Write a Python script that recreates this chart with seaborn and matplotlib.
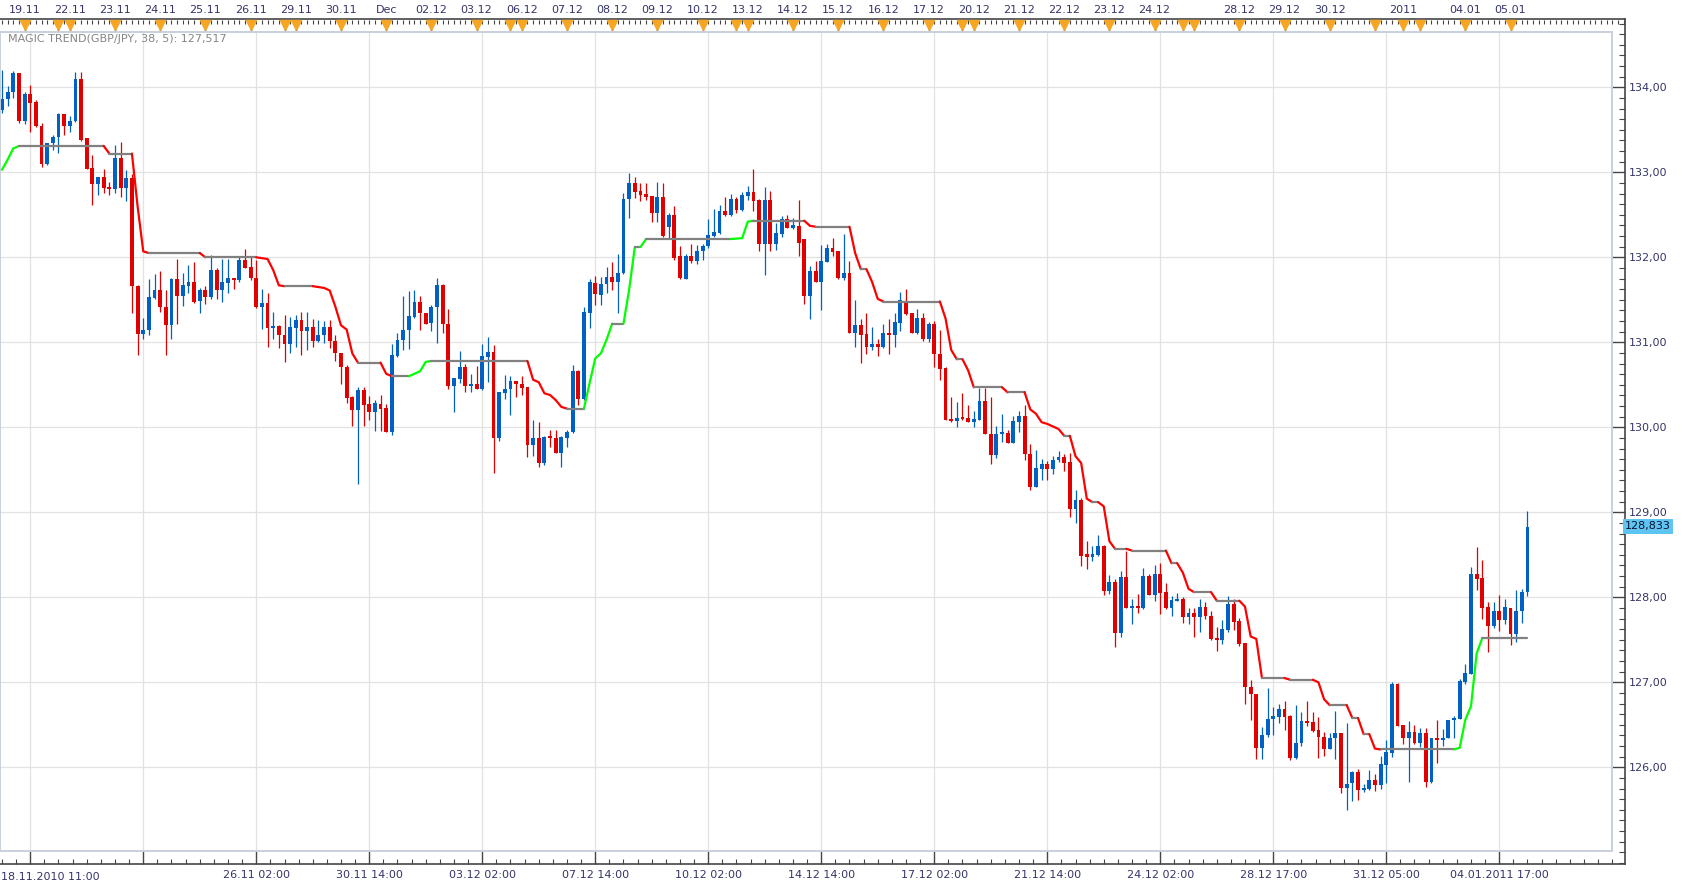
import numpy as np
import pandas as pd
import seaborn as sns
import matplotlib.pyplot as plt
from matplotlib.ticker import FixedLocator, MultipleLocator
from matplotlib.transforms import blended_transform_factory

# 3h candles GBP/JPY, 18.11.2010 -> 05.01.2011
opens = [
    133.73, 133.86, 133.94, 134.17, 133.60, 133.92, 133.83, 133.55, 133.10, 133.34,
    133.41, 133.69, 133.55, 133.60, 134.10, 133.40, 133.05, 132.86, 132.94, 132.83,
    132.80, 133.17, 132.81, 132.93, 131.66, 131.10, 131.14, 131.52, 131.62, 131.41,
    131.20, 131.75, 131.54, 131.66, 131.71, 131.49, 131.61, 131.53, 131.85, 131.62,
    131.70, 131.76, 131.73, 131.97, 131.89, 131.76, 131.41, 131.46, 131.17, 131.19,
    131.08, 130.98, 131.17, 131.26, 131.13, 131.18, 131.02, 131.09, 131.18, 131.01,
    130.87, 130.71, 130.36, 130.20, 130.44, 130.27, 130.18, 130.28, 130.23, 129.94,
    130.84, 131.03, 131.14, 131.30, 131.47, 131.34, 131.23, 131.41, 131.67, 131.22,
    130.49, 130.57, 130.71, 130.49, 130.51, 130.45, 130.83, 130.89, 129.88, 130.40,
    130.45, 130.54, 130.51, 130.47, 129.79, 129.87, 129.58, 129.88, 129.87, 129.70,
    129.88, 129.94, 130.66, 130.33, 131.35, 131.70, 131.56, 131.68, 131.77, 131.71,
    131.81, 132.68, 132.87, 132.78, 132.75, 132.72, 132.52, 132.71, 132.36, 132.50,
    132.01, 131.75, 132.02, 131.96, 132.07, 132.13, 132.25, 132.29, 132.55, 132.50,
    132.69, 132.56, 132.72, 132.77, 132.67, 132.16, 132.67, 132.16, 132.27, 132.45,
    132.35, 132.37, 132.21, 131.54, 131.84, 131.71, 131.95, 132.11, 132.07, 131.76,
    131.82, 131.11, 131.20, 131.10, 130.94, 130.98, 130.94, 131.11, 131.08, 131.23,
    131.49, 131.34, 131.11, 131.29, 131.04, 131.22, 130.86, 130.70, 130.10, 130.07,
    130.11, 130.11, 130.06, 130.09, 130.31, 129.92, 129.67, 129.92, 129.93, 129.82,
    130.06, 130.13, 129.69, 129.30, 129.51, 129.57, 129.51, 129.61, 129.65, 129.59,
    129.04, 129.15, 128.50, 128.48, 128.50, 128.60, 128.07, 128.18, 127.58, 128.24,
    127.87, 127.90, 127.87, 128.25, 128.03, 128.27, 128.06, 127.87, 127.96, 127.98,
    127.77, 127.81, 127.77, 127.89, 127.78, 127.52, 127.50, 127.62, 127.92, 127.72,
    127.46, 126.95, 126.86, 126.23, 126.38, 126.57, 126.59, 126.68, 126.60, 126.11,
    126.29, 126.54, 126.53, 126.44, 126.36, 126.22, 126.35, 126.40, 125.76, 125.81,
    125.95, 125.73, 125.75, 125.85, 125.79, 126.03, 126.17, 126.98, 126.50, 126.35,
    126.41, 126.29, 126.40, 125.83, 126.34, 126.32, 126.35, 126.56, 126.57, 127.00,
    127.10, 128.27, 128.23, 127.88, 127.66, 127.84, 127.73, 127.88, 127.57, 127.84,
    128.06,
]
highs = [
    134.20, 134.02, 134.19, 134.17, 133.94, 134.03, 133.85, 133.58, 133.35, 133.44,
    133.70, 133.69, 133.66, 134.18, 134.18, 133.40, 133.20, 132.95, 133.04, 132.89,
    133.32, 133.36, 133.03, 132.98, 131.67, 131.29, 131.75, 131.80, 131.84, 131.62,
    131.76, 131.98, 131.81, 131.91, 131.95, 131.64, 131.66, 132.03, 131.87, 131.98,
    131.98, 131.76, 132.02, 132.10, 132.00, 131.97, 131.63, 131.58, 131.36, 131.20,
    131.32, 131.30, 131.32, 131.36, 131.36, 131.27, 131.26, 131.25, 131.26, 131.08,
    130.87, 130.73, 130.37, 130.47, 130.47, 130.37, 130.32, 130.38, 130.27, 130.98,
    131.11, 131.55, 131.60, 131.61, 131.55, 131.35, 131.44, 131.76, 131.68, 131.39,
    130.58, 130.90, 130.75, 130.63, 130.72, 130.98, 131.06, 130.97, 130.42, 130.61,
    130.60, 130.54, 130.60, 130.47, 130.09, 130.06, 129.90, 129.97, 129.97, 129.90,
    129.97, 130.73, 130.67, 131.42, 131.75, 131.78, 131.77, 131.89, 131.95, 132.04,
    132.76, 132.99, 132.95, 132.88, 132.87, 132.72, 132.89, 132.88, 132.52, 132.60,
    132.13, 132.04, 132.16, 132.15, 132.16, 132.45, 132.57, 132.62, 132.71, 132.75,
    132.71, 132.77, 132.84, 133.04, 132.68, 132.83, 132.78, 132.40, 132.49, 132.50,
    132.46, 132.67, 132.22, 131.90, 131.96, 132.15, 132.16, 132.23, 132.07, 132.28,
    131.96, 131.50, 131.27, 131.34, 131.18, 131.04, 131.22, 131.27, 131.35, 131.59,
    131.63, 131.35, 131.39, 131.35, 131.24, 131.25, 131.15, 130.71, 130.36, 130.30,
    130.40, 130.26, 130.19, 130.46, 130.46, 130.36, 130.02, 130.16, 129.97, 130.13,
    130.19, 130.26, 129.80, 129.73, 129.63, 129.60, 129.66, 129.72, 129.69, 129.70,
    129.26, 129.17, 128.66, 128.60, 128.73, 128.62, 128.26, 128.21, 128.31, 128.54,
    127.98, 128.04, 128.34, 128.27, 128.38, 128.40, 128.17, 128.02, 128.05, 128.00,
    127.87, 127.87, 127.98, 127.95, 127.84, 127.65, 127.73, 128.01, 127.98, 127.76,
    127.46, 127.03, 126.86, 126.47, 126.93, 126.71, 126.75, 126.78, 126.62, 126.73,
    126.65, 126.78, 126.65, 126.59, 126.42, 126.40, 126.66, 126.40, 126.52, 125.96,
    125.98, 125.80, 125.97, 125.92, 126.13, 126.32, 127.00, 126.99, 126.50, 126.54,
    126.50, 126.46, 126.46, 126.34, 126.56, 126.45, 126.56, 126.60, 127.04, 127.21,
    128.36, 128.59, 128.44, 127.95, 127.95, 128.03, 127.98, 127.88, 128.08, 128.10,
    129.01,
]
lows = [
    133.70, 133.78, 133.87, 133.58, 133.57, 133.48, 133.53, 133.06, 133.08, 133.26,
    133.23, 133.44, 133.48, 133.59, 133.37, 133.04, 132.62, 132.73, 132.76, 132.73,
    132.76, 132.71, 132.66, 131.34, 130.85, 131.04, 131.08, 131.51, 131.36, 130.85,
    131.04, 131.22, 131.43, 131.58, 131.46, 131.35, 131.45, 131.51, 131.51, 131.47,
    131.58, 131.63, 131.71, 131.88, 131.73, 131.40, 131.16, 130.95, 131.04, 130.93,
    130.77, 130.88, 130.95, 130.85, 130.91, 130.94, 131.00, 130.99, 130.93, 130.78,
    130.51, 130.29, 130.01, 129.33, 130.01, 130.08, 129.96, 129.96, 129.94, 129.91,
    130.83, 130.91, 130.92, 131.29, 131.15, 131.22, 131.13, 130.99, 131.11, 130.45,
    130.18, 130.52, 130.42, 130.42, 130.45, 130.44, 130.53, 129.46, 129.84, 130.33,
    130.14, 130.36, 130.38, 129.65, 129.66, 129.53, 129.56, 129.77, 129.70, 129.53,
    129.77, 129.93, 130.26, 130.32, 131.17, 131.44, 131.44, 131.58, 131.61, 131.34,
    131.80, 132.46, 132.70, 132.66, 132.67, 132.41, 132.41, 132.24, 132.22, 131.97,
    131.74, 131.74, 131.93, 131.92, 131.97, 132.11, 132.24, 132.28, 132.49, 132.49,
    132.52, 132.55, 132.67, 132.55, 132.07, 131.79, 132.07, 132.08, 132.24, 132.35,
    132.33, 132.01, 131.45, 131.28, 131.71, 131.38, 131.95, 132.02, 131.74, 131.73,
    131.11, 130.94, 130.76, 130.86, 130.91, 130.84, 130.93, 130.86, 130.94, 131.13,
    131.32, 131.11, 131.10, 131.02, 131.00, 130.71, 130.56, 130.09, 130.06, 130.00,
    130.09, 130.06, 130.00, 130.09, 129.92, 129.57, 129.64, 129.83, 129.82, 129.81,
    129.94, 129.62, 129.26, 129.30, 129.38, 129.38, 129.45, 129.59, 129.49, 128.94,
    128.88, 128.37, 128.33, 128.43, 128.49, 128.03, 128.04, 127.42, 127.53, 127.87,
    127.68, 127.82, 127.86, 128.03, 127.96, 127.80, 127.86, 127.78, 127.96, 127.70,
    127.69, 127.53, 127.59, 127.74, 127.50, 127.37, 127.45, 127.59, 127.62, 127.43,
    126.75, 126.56, 126.10, 126.10, 126.36, 126.38, 126.52, 126.44, 126.09, 126.10,
    126.25, 126.48, 126.42, 126.11, 126.13, 126.22, 126.10, 125.70, 125.50, 125.60,
    125.61, 125.71, 125.73, 125.72, 125.75, 125.82, 126.12, 126.49, 126.28, 125.83,
    126.28, 126.24, 125.77, 125.81, 126.05, 126.25, 126.35, 126.34, 126.57, 126.98,
    127.10, 128.09, 127.74, 127.36, 127.64, 127.60, 127.68, 127.44, 127.47, 127.70,
    128.01,
]
closes = [
    133.86, 133.94, 134.17, 133.60, 133.92, 133.82, 133.54, 133.10, 133.34, 133.41,
    133.69, 133.55, 133.60, 134.10, 133.38, 133.04, 132.86, 132.94, 132.82, 132.80,
    133.17, 132.81, 132.93, 131.66, 131.10, 131.15, 131.53, 131.62, 131.41, 131.20,
    131.75, 131.54, 131.67, 131.71, 131.48, 131.61, 131.53, 131.85, 131.62, 131.71,
    131.76, 131.73, 131.97, 131.88, 131.76, 131.41, 131.46, 131.17, 131.19, 131.08,
    130.98, 131.18, 131.26, 131.13, 131.18, 131.02, 131.09, 131.18, 131.01, 130.87,
    130.71, 130.35, 130.20, 130.44, 130.26, 130.18, 130.29, 130.22, 129.94, 130.85,
    131.03, 131.15, 131.31, 131.47, 131.34, 131.22, 131.42, 131.67, 131.21, 130.49,
    130.58, 130.71, 130.49, 130.51, 130.45, 130.84, 130.89, 129.88, 130.41, 130.45,
    130.54, 130.51, 130.46, 129.79, 129.87, 129.58, 129.88, 129.87, 129.70, 129.89,
    129.95, 130.66, 130.33, 131.36, 131.71, 131.57, 131.68, 131.77, 131.71, 131.82,
    132.69, 132.87, 132.77, 132.73, 132.71, 132.52, 132.71, 132.25, 132.50, 131.99,
    131.76, 132.02, 131.96, 132.07, 132.13, 132.26, 132.30, 132.55, 132.50, 132.69,
    132.56, 132.73, 132.77, 132.66, 132.16, 132.67, 132.16, 132.28, 132.45, 132.35,
    132.37, 132.17, 131.54, 131.84, 131.71, 131.96, 132.11, 132.06, 131.76, 131.82,
    131.11, 131.20, 131.09, 130.94, 130.98, 130.94, 131.11, 131.08, 131.24, 131.50,
    131.33, 131.11, 131.29, 131.04, 131.22, 130.86, 130.69, 130.09, 130.07, 130.11,
    130.10, 130.06, 130.10, 130.31, 129.92, 129.67, 129.92, 129.93, 129.82, 130.07,
    130.13, 129.69, 129.30, 129.52, 129.57, 129.51, 129.62, 129.65, 129.58, 129.04,
    129.15, 128.49, 128.48, 128.51, 128.60, 128.07, 128.18, 127.58, 128.24, 127.87,
    127.90, 127.87, 128.25, 128.03, 128.27, 128.05, 127.87, 127.97, 127.98, 127.77,
    127.81, 127.77, 127.89, 127.78, 127.51, 127.50, 127.63, 127.92, 127.71, 127.45,
    126.95, 126.86, 126.23, 126.38, 126.57, 126.60, 126.68, 126.59, 126.11, 126.29,
    126.54, 126.52, 126.43, 126.36, 126.22, 126.35, 126.40, 125.76, 125.80, 125.95,
    125.73, 125.76, 125.85, 125.79, 126.04, 126.18, 126.98, 126.49, 126.35, 126.41,
    126.29, 126.40, 125.83, 126.34, 126.32, 126.35, 126.56, 126.58, 127.01, 127.11,
    128.27, 128.22, 127.87, 127.66, 127.84, 127.73, 127.88, 127.57, 127.84, 128.06,
    128.83,
]
# MAGIC TREND(38, 5) line
trend = [
    133.03, 133.15, 133.28, 133.31, 133.31, 133.31, 133.31, 133.31, 133.31, 133.31,
    133.31, 133.31, 133.31, 133.31, 133.31, 133.31, 133.31, 133.31, 133.31, 133.22,
    133.22, 133.22, 133.22, 133.22, 132.60, 132.07, 132.05, 132.05, 132.05, 132.05,
    132.05, 132.05, 132.05, 132.05, 132.05, 132.05, 132.00, 132.00, 132.00, 132.00,
    132.00, 132.00, 132.00, 132.00, 132.00, 132.00, 131.99, 131.98, 131.85, 131.67,
    131.66, 131.66, 131.66, 131.66, 131.66, 131.66, 131.65, 131.64, 131.61, 131.42,
    131.20, 131.15, 130.87, 130.76, 130.76, 130.76, 130.76, 130.76, 130.63, 130.60,
    130.60, 130.60, 130.60, 130.63, 130.66, 130.77, 130.78, 130.78, 130.78, 130.78,
    130.78, 130.78, 130.78, 130.78, 130.78, 130.78, 130.78, 130.78, 130.78, 130.78,
    130.78, 130.78, 130.78, 130.78, 130.56, 130.53, 130.40, 130.38, 130.32, 130.24,
    130.22, 130.22, 130.22, 130.22, 130.52, 130.81, 130.87, 131.03, 131.22, 131.22,
    131.22, 131.62, 132.12, 132.12, 132.215, 132.215, 132.215, 132.215, 132.215, 132.215,
    132.215, 132.215, 132.215, 132.215, 132.215, 132.215, 132.215, 132.215, 132.215, 132.215,
    132.22, 132.225, 132.42, 132.43, 132.43, 132.43, 132.43, 132.43, 132.43, 132.43,
    132.43, 132.43, 132.43, 132.37, 132.36, 132.36, 132.36, 132.36, 132.36, 132.36,
    132.36, 132.05, 131.86, 131.86, 131.71, 131.51, 131.48, 131.48, 131.48, 131.48,
    131.48, 131.48, 131.48, 131.48, 131.48, 131.48, 131.48, 131.28, 130.91, 130.80,
    130.80, 130.67, 130.47, 130.47, 130.47, 130.47, 130.47, 130.47, 130.41, 130.41,
    130.41, 130.41, 130.21, 130.16, 130.06, 130.04, 130.01, 129.98, 129.90, 129.90,
    129.66, 129.58, 129.16, 129.12, 129.12, 129.07, 128.66, 128.57, 128.57, 128.57,
    128.55, 128.55, 128.55, 128.55, 128.55, 128.55, 128.55, 128.40, 128.40, 128.29,
    128.10, 128.06, 128.06, 128.06, 128.06, 127.96, 127.96, 127.96, 127.96, 127.96,
    127.89, 127.54, 127.51, 127.05, 127.05, 127.05, 127.05, 127.05, 127.03, 127.03,
    127.03, 127.03, 127.03, 127.00, 126.80, 126.73, 126.73, 126.73, 126.73, 126.58,
    126.58, 126.39, 126.39, 126.22, 126.21, 126.21, 126.21, 126.21, 126.21, 126.21,
    126.21, 126.21, 126.21, 126.21, 126.21, 126.21, 126.21, 126.21, 126.23, 126.56,
    126.72, 127.34, 127.52, 127.52, 127.52, 127.52, 127.52, 127.52, 127.52, 127.52,
    127.52,
]
assert len(opens) == len(highs) == len(lows) == len(closes) == len(trend) == 271

price_ticks = [126, 127, 128, 129, 130, 131, 132, 133, 134]
price_labels = ["126,00", "127,00", "128,00", "129,00", "130,00",
                "131,00", "132,00", "133,00", "134,00"]
bottom_labels = ["", "", "26.11 02:00", "30.11 14:00", "03.12 02:00", "07.12 14:00",
                 "10.12 02:00", "14.12 14:00", "17.12 02:00", "21.12 14:00",
                 "24.12 02:00", "28.12 17:00", "31.12 05:00", "04.01.2011 17:00"]
first_label = "18.11.2010 11:00"
day_pos = [4, 10, 12, 20, 28, 36, 44, 50, 52, 60, 68, 76, 84, 90, 92, 100, 108, 116,
           124, 130, 132, 140, 148, 156, 164, 170, 172, 180, 188, 196, 204, 209, 211,
           219, 227, 235, 243, 248, 251, 259, 267]
day_labels = ["19.11", "", "22.11", "23.11", "24.11", "25.11", "26.11", "", "29.11",
              "30.11", "Dec", "02.12", "03.12", "", "06.12", "07.12", "08.12", "09.12",
              "10.12", "", "13.12", "14.12", "15.12", "16.12", "17.12", "", "20.12",
              "21.12", "22.12", "23.12", "24.12", "", "", "28.12", "29.12", "30.12",
              "", "2011", "", "04.01", "05.01"]
last_price = "128,833"
title = "MAGIC TREND(GBP/JPY, 38, 5): 127,517"

# colours
BLUE, RED = "#0060C4", "#E00000"
TXT = "#35356a"
AXC = "#454545"

sns.set_style("white")
plt.rcParams['font.family'] = ['DejaVu Sans']
plt.rcParams['font.size'] = 8

W, H = 1682, 888
fig = plt.figure(figsize=(W / 100, H / 100), dpi=100)

# pixel layout helpers
PX, X0 = 5.65, 2.0          # px per candle, px of first candle
Y134, PPU = 87.3, 85.0      # y px of 134,00 and px per 1 yen
def xi(px):
    return (px - X0) / PX
def yp(px):
    return 134 - (px - Y134) / PPU

# outer frame with the axis lines (right, top, bottom)
ax_out = fig.add_axes([0, (H - 864) / H, 1625 / W, (864 - 19.5) / H])
ax_out.set_xlim(xi(0), xi(1625))
ax_out.set_ylim(yp(864), yp(19.5))
ax_out.set_facecolor("white")
for s in ["right", "top", "bottom"]:
    ax_out.spines[s].set_color(AXC)
    ax_out.spines[s].set_linewidth(1.2)
ax_out.spines["left"].set_visible(False)

ax_out.yaxis.tick_right()
ax_out.yaxis.set_major_locator(FixedLocator(price_ticks))
ax_out.set_yticklabels(price_labels)
ax_out.yaxis.set_minor_locator(MultipleLocator(0.125))
ax_out.tick_params(axis="y", which="major", direction="in", length=9.4, width=1,
                   color=AXC, labelcolor=TXT, labelsize=8, pad=3, right=True, left=False)
ax_out.tick_params(axis="y", which="minor", direction="in", length=4.5, width=0.8,
                   color=AXC, right=True, left=False)

grid_x = [5 + 20 * k for k in range(14)]
ax_out.xaxis.set_major_locator(FixedLocator(grid_x))
ax_out.set_xticklabels(bottom_labels)
ax_out.xaxis.set_minor_locator(MultipleLocator(2.5))
ax_out.tick_params(axis="x", which="major", direction="in", length=9.4, width=1,
                   color=AXC, labelcolor=TXT, labelsize=8, pad=4, top=False)
ax_out.tick_params(axis="x", which="minor", direction="in", length=3.5, width=0.8,
                   color=AXC, top=False)
fig.text(1 / W, 1 - 877 / H, first_label, ha="left", va="center", color=TXT, fontsize=8)

# top date axis
ax_top = ax_out.twiny()
ax_top.set_xlim(xi(0), xi(1625))
for s in ["right", "left", "bottom", "top"]:
    ax_top.spines[s].set_visible(False)
ax_top.xaxis.set_major_locator(FixedLocator(day_pos))
ax_top.set_xticklabels(day_labels)
ax_top.xaxis.set_minor_locator(MultipleLocator(1))
ax_top.tick_params(axis="x", which="major", direction="in", length=8, width=1,
                   color=AXC, labelcolor=TXT, labelsize=8, pad=3)
ax_top.tick_params(axis="x", which="minor", direction="in", length=3, width=0.8, color=AXC)
tri_tr = blended_transform_factory(ax_top.transData, ax_top.transAxes)
ax_top.plot(day_pos, [0.9935] * len(day_pos), ls="none", marker="v", ms=7,
            color="#F6A623", mec="#F6A623", transform=tri_tr, clip_on=False, zorder=1)

# price tag for last close
ax_out.text(1.0, 128.833, last_price,
            transform=blended_transform_factory(ax_out.transAxes, ax_out.transData),
            ha="left", va="center", fontsize=8, color="#101030",
            bbox=dict(boxstyle="square,pad=0.2", fc="#5EC5F2", ec="none"))

# main plot area
ax = fig.add_axes([0, (H - 851) / H, 1612 / W, (851 - 32) / H])
ax.set_facecolor("white")
ax.set_xlim(xi(0), xi(1612))
ax.set_ylim(yp(851), yp(32))
for s in ax.spines.values():
    s.set_color("#c9d0da")
    s.set_linewidth(1.4)
ax.set_xticks(grid_x)
ax.set_yticks(price_ticks)
ax.tick_params(length=0, labelbottom=False, labelleft=False)
ax.grid(True, color="#e2e2e2", linewidth=0.9)
ax.set_axisbelow(True)

idx = np.arange(len(opens))
o, h, l, c = map(np.array, (opens, highs, lows, closes))
cols = np.where(c >= o, BLUE, RED)
ax.vlines(idx, l, h, colors=cols, linewidth=0.9, zorder=2)
body_lo = np.minimum(o, c)
body_h = np.maximum(np.abs(c - o), 0.025)
ax.bar(idx, body_h, bottom=body_lo, width=0.68, color=cols, linewidth=0, zorder=2)

# trend line, coloured by direction
tr = np.array(trend)
d = np.diff(tr)
kind = np.where(d > 1e-6, "up", np.where(d < -1e-6, "down", "flat"))
kind_col = {"up": "#00FF00", "down": "#FF0000", "flat": "#808080"}
rows, pal, run = [], {}, 0
for k in range(len(d)):
    if k > 0 and kind[k] != kind[k - 1]:
        run += 1
    name = f"r{run}"
    pal[name] = kind_col[kind[k]]
    if k == 0 or kind[k] != kind[k - 1]:
        rows.append((k, tr[k], name))
    rows.append((k + 1, tr[k + 1], name))
df = pd.DataFrame(rows, columns=["x", "y", "run"])
sns.lineplot(data=df, x="x", y="y", hue="run", palette=pal, estimator=None,
             sort=False, legend=False, linewidth=1.6, ax=ax, zorder=3)
ax.set_xlabel("")
ax.set_ylabel("")

ax.text(8 / 1612, 1 - 7 / 819, title, transform=ax.transAxes, ha="left", va="center",
        fontsize=8, color="#858585")

fig.savefig("out.png", dpi=100)
